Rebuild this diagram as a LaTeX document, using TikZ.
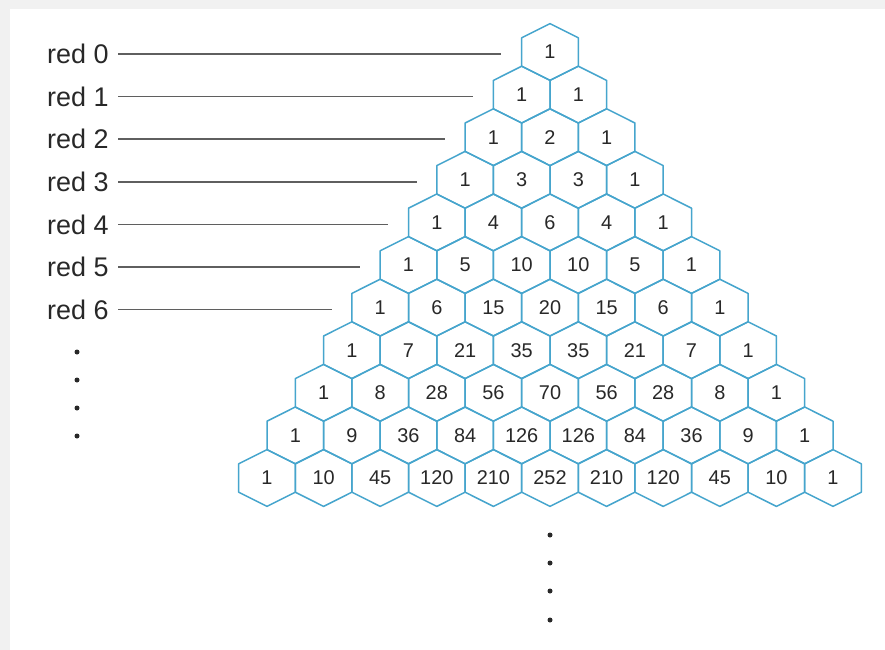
\documentclass[tikz,border=0pt]{standalone}
\usepackage{fontspec}
\setmainfont{Liberation Sans}
\usetikzlibrary{calc}
\definecolor{hexblue}{RGB}{70,165,205}
\definecolor{leadgray}{RGB}{95,95,95}
\definecolor{txtgray}{RGB}{40,40,40}
\definecolor{bandgray}{RGB}{241,241,241}

\begin{document}
\begin{tikzpicture}[x=0.03cm, y=-0.03cm,
    hexline/.style={draw=hexblue, line width=0.045cm, line join=round},
    num/.style={inner sep=0pt, minimum width=1.7cm, text=txtgray,
                font=\fontsize{17}{20}\selectfont},
    lbl/.style={anchor=east, inner sep=1pt, text=txtgray,
                font=\fontsize{23}{27}\selectfont},
    leader/.style={draw=leadgray, line width=0.05cm,
                   shorten <=0.24cm, shorten >=0.6cm},
    dot/.style={fill=txtgray}
]

% Page and margin band
\useasboundingbox (0,0) rectangle (885,650);
\fill[bandgray] (0,0) rectangle (885,650);
\fill[white] (10,9) rectangle (885,650);

% Hexagon triangle
\foreach \row [count=\n from 0] in {{1},{1,1},{1,2,1},{1,3,3,1},{1,4,6,4,1},
    {1,5,10,10,5,1},{1,6,15,20,15,6,1},{1,7,21,35,35,21,7,1},
    {1,8,28,56,70,56,28,8,1},{1,9,36,84,126,126,84,36,9,1},
    {1,10,45,120,210,252,210,120,45,10,1}}{
  \foreach \v [count=\j from 0] in \row {
    \draw[hexline] ({550-28.3*\n+56.6*\j}, {52+42.6*\n})
        +(0,-28.4) -- +(28.3,-14.2) -- +(28.3,14.2) -- +(0,28.4)
        -- +(-28.3,14.2) -- +(-28.3,-14.2) -- cycle;
    \node[num] (h-\n-\j) at ({550-28.3*\n+56.6*\j}, {52+42.6*\n}) {\v};
  }
}

% Row labels
\foreach \n in {0,...,6}{
  \node[lbl] (red\n) at (110, {54+42.6*\n}) {red \n};
  \draw[leader] (red\n.east) -- (red\n.east -| h-\n-0.west);
}

% Continuation dots
\foreach \y in {352,380,408,436} \fill[dot] (77,\y) circle (0.075cm);
\foreach \y in {535,563,591,620} \fill[dot] (550,\y) circle (0.075cm);

\end{tikzpicture}
\end{document}
